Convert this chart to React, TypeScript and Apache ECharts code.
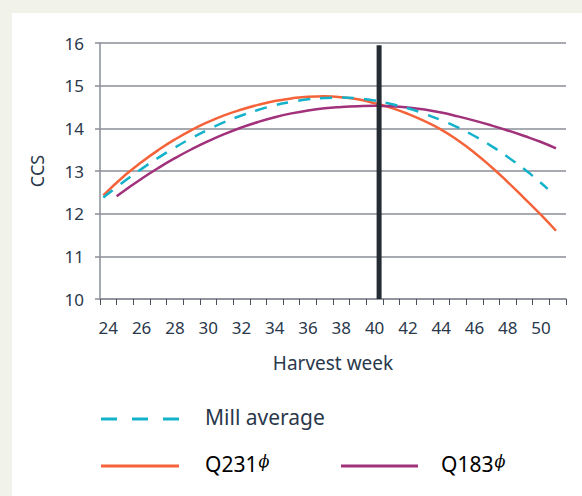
import React, { useEffect, useRef } from 'react';
import * as echarts from 'echarts';

const weekLabels = ['24','25','26','27','28','29','30','31','32','33','34','35','36','37','38','39','40','41','42','43','44','45','46','47','48','49','50','51'];

const millWeeks = [23.7,25,26,27,28,29,30,31,32,33,34,35,36,37,38,39,40,41,42,43,44,45,46,47,48,49,50,50.4];
const millCcs = [12.38,12.77,13.05,13.31,13.55,13.77,13.97,14.15,14.3,14.43,14.54,14.62,14.68,14.71,14.72,14.7,14.65,14.57,14.47,14.34,14.19,14.02,13.82,13.59,13.33,13.04,12.72,12.58];

const q231Weeks = [23.7,25,26,27,28,29,30,31,32,33,34,35,36,37,38,39,40,41,42,43,44,45,46,47,48,49,50,50.9];
const q231Ccs = [12.43,12.9,13.21,13.49,13.74,13.96,14.15,14.31,14.44,14.55,14.64,14.7,14.74,14.75,14.73,14.68,14.59,14.48,14.34,14.17,13.97,13.72,13.43,13.1,12.74,12.36,11.97,11.6];

const q183Weeks = [24.5,25,26,27,28,29,30,31,32,33,34,35,36,37,38,39,40,41,42,43,44,45,46,47,48,49,50,50.9];
const q183Ccs = [12.41,12.55,12.82,13.07,13.3,13.51,13.7,13.87,14.02,14.15,14.26,14.35,14.42,14.47,14.5,14.52,14.53,14.52,14.49,14.44,14.37,14.28,14.18,14.07,13.95,13.82,13.68,13.53];

const markWeek = 40.27;
const markRange = [10, 15.95];

const legendNames = ['Mill average', 'Q231', 'Q183'];
const superscript = 'ϕ';

const FONT = 'Noto Sans';
const TEXT = '#2a384b';
const GRID = '#8b8e97';
const ORANGE = '#f4633a';
const CYAN = '#14b2ca';
const PURPLE = '#a1317b';
const DARK = '#262c34';

const zip = (xs: number[], ys: number[]) => xs.map((x, i) => [x, ys[i]]);

export default function App() {
  const ref = useRef<HTMLDivElement>(null);
  useEffect(() => {
    document.body.style.margin = '0';
    const chart = echarts.init(ref.current!, null, { renderer: 'svg' });
    const rich = {
      a: { fontSize: 21, fontFamily: FONT, color: TEXT },
      b: { fontSize: 16, fontFamily: 'DejaVu Serif', fontStyle: 'italic', color: '#8a909a', verticalAlign: 'top', padding: [0, 0, 5, 1] },
    };
    chart.setOption({
      animation: false,
      grid: { left: 100, right: 16, top: 43, bottom: 197 },
      xAxis: [
        {
          type: 'category',
          data: weekLabels,
          boundaryGap: true,
          axisLine: { lineStyle: { color: GRID, width: 1.5 } },
          axisTick: { show: true, interval: 0, length: 6, lineStyle: { color: '#4a505c', width: 1 } },
          axisLabel: { interval: 1, margin: 20, fontSize: 17, color: TEXT, fontFamily: FONT },
          splitLine: { show: false },
          name: 'Harvest week',
          nameLocation: 'middle',
          nameGap: 54,
          nameTextStyle: { fontSize: 19, color: TEXT, fontFamily: FONT },
        },
        { type: 'value', min: 23.5, max: 51.5, show: false, splitLine: { show: false } },
      ],
      yAxis: {
        type: 'value',
        min: 10,
        max: 16,
        interval: 1,
        axisLine: { show: true, lineStyle: { color: GRID, width: 1.5 } },
        axisTick: { show: true, length: 5, lineStyle: { color: GRID, width: 1.5 } },
        splitLine: { lineStyle: { color: GRID, width: 1.5 } },
        axisLabel: { margin: 16, fontSize: 17, color: TEXT, fontFamily: FONT },
        name: 'CCS',
        nameLocation: 'middle',
        nameGap: 54,
        nameRotate: 90,
        nameTextStyle: { fontSize: 18, color: TEXT, fontFamily: FONT },
      },
      series: [
        { name: legendNames[1], type: 'line', xAxisIndex: 1, data: zip(q231Weeks, q231Ccs), smooth: true, symbol: 'none', lineStyle: { color: ORANGE, width: 2.5 }, z: 2 },
        { name: legendNames[2], type: 'line', xAxisIndex: 1, data: zip(q183Weeks, q183Ccs), smooth: true, symbol: 'none', lineStyle: { color: PURPLE, width: 2.5 }, z: 3 },
        { name: legendNames[0], type: 'line', xAxisIndex: 1, data: zip(millWeeks, millCcs), smooth: true, symbol: 'none', lineStyle: { color: CYAN, width: 2.5, type: [12, 10] }, z: 4 },
        { name: 'mark', type: 'line', xAxisIndex: 1, data: markRange.map((v) => [markWeek, v]), symbol: 'none', lineStyle: { color: DARK, width: 5, cap: 'butt' }, z: 6 },
      ],
      graphic: [
        { type: 'line', shape: { x1: 101, y1: 419, x2: 179, y2: 419 }, style: { stroke: CYAN, lineWidth: 3, lineDash: [16, 15] } },
        { type: 'text', x: 205, y: 417, style: { text: legendNames[0], fontSize: 21, fontFamily: FONT, fill: TEXT, verticalAlign: 'middle' } },
        { type: 'line', shape: { x1: 101, y1: 466, x2: 179, y2: 466 }, style: { stroke: ORANGE, lineWidth: 3 } },
        { type: 'text', x: 205, y: 464, style: { text: `{a|${legendNames[1]}}{b|${superscript}}`, rich, verticalAlign: 'middle' } },
        { type: 'line', shape: { x1: 341, y1: 466, x2: 418, y2: 466 }, style: { stroke: PURPLE, lineWidth: 3 } },
        { type: 'text', x: 441, y: 464, style: { text: `{a|${legendNames[2]}}{b|${superscript}}`, rich, verticalAlign: 'middle' } },
      ],
    });
    return () => chart.dispose();
  }, []);
  return (
    <div style={{ position: 'relative', width: 582, height: 496, background: '#f1f3eb' }}>
      <div style={{ position: 'absolute', left: 12, top: 13, width: 570, height: 483, background: '#ffffff' }} />
      <div ref={ref} style={{ position: 'absolute', left: 0, top: 0, width: 582, height: 496 }} />
    </div>
  );
}
